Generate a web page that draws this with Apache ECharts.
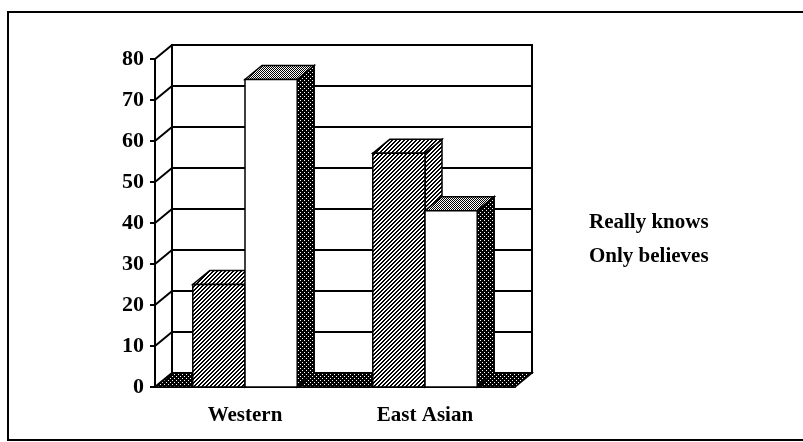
<!DOCTYPE html>
<html>
<head>
<meta charset="utf-8">
<script src="https://cdn.jsdelivr.net/npm/echarts@6/dist/echarts.min.js"></script>
<style>
  html, body { margin: 0; padding: 0; background: #fff; }
  #chart { width: 803px; height: 442px; }
</style>
</head>
<body>
<div id="chart"></div>
<script>
const categories = ['Western', 'East Asian']
const reallyKnows = [25, 57]
const onlyBelieves = [75, 43]
const yTicks = [0, 10, 20, 30, 40, 50, 60, 70, 80]

// 3d depth offsets
const DX = 17
const DY = 14
const font = '"Liberation Serif", "Times New Roman", serif'

function makePattern(size, draw) {
  const c = document.createElement('canvas')
  c.width = size
  c.height = size
  const ctx = c.getContext('2d')
  draw(ctx)
  return { image: c, repeat: 'repeat' }
}

// diagonal hatch ////
const hatch = makePattern(4, ctx => {
  ctx.fillStyle = '#fff'
  ctx.fillRect(0, 0, 4, 4)
  ctx.fillStyle = '#000'
  for (let i = 0; i < 4; i++) {
    ctx.fillRect(i, 3 - i, 1, 1)
    ctx.fillRect(i, (4 - i) % 4, 1, 1)
  }
})
// dark stipple (sides, floor)
const darkDots = makePattern(4, ctx => {
  ctx.fillStyle = '#000'
  ctx.fillRect(0, 0, 4, 4)
  ctx.fillStyle = '#fff'
  ctx.fillRect(0, 0, 1, 1)
  ctx.fillRect(2, 2, 1, 1)
})
// lighter stipple (tops)
const lightDots = makePattern(2, ctx => {
  ctx.fillStyle = '#fff'
  ctx.fillRect(0, 0, 2, 2)
  ctx.fillStyle = '#000'
  ctx.fillRect(0, 0, 1, 1)
  ctx.fillRect(1, 1, 1, 1)
})

const stroke = { stroke: '#000', lineWidth: 1.5 }

function poly(points, fill) {
  return { type: 'polygon', shape: { points: points }, style: Object.assign({ fill: fill }, stroke) }
}

function barRenderer(front, top, side, offset) {
  return function (params, api) {
    const cat = api.value(0)
    const val = api.value(1)
    const p = api.coord([cat, val])
    const p0 = api.coord([cat, 0])
    const bw = api.size([1, 0])[0] * 0.29
    const x0 = p[0] + offset * bw
    const x1 = x0 + bw
    const yt = p[1]
    const yb = p0[1]
    return {
      type: 'group',
      children: [
        poly([[x1, yt], [x1 + DX, yt - DY], [x1 + DX, yb - DY], [x1, yb]], side),
        poly([[x0, yt], [x1, yt], [x1 + DX, yt - DY], [x0 + DX, yt - DY]], top),
        poly([[x0, yt], [x1, yt], [x1, yb], [x0, yb]], front)
      ]
    }
  }
}

function frameRenderer(params, api) {
  const cs = params.coordSys
  const xl = cs.x
  const xr = cs.x + cs.width
  const y0 = api.coord([0, 0])[1]
  const yMax = api.coord([0, yTicks[yTicks.length - 1]])[1]
  const children = []
  // back wall
  children.push({
    type: 'rect',
    shape: { x: xl + DX, y: yMax - DY, width: xr - xl, height: y0 - yMax },
    style: { fill: '#fff', stroke: '#000', lineWidth: 2 }
  })
  // floor
  children.push(poly([[xl, y0], [xr, y0], [xr + DX, y0 - DY], [xl + DX, y0 - DY]], darkDots))
  yTicks.forEach(v => {
    const y = api.coord([0, v])[1]
    if (v > 0 && v < yTicks[yTicks.length - 1]) {
      children.push({
        type: 'line',
        shape: { x1: xl + DX, y1: y - DY, x2: xr + DX, y2: y - DY },
        style: { stroke: '#000', lineWidth: 2 }
      })
    }
    children.push({
      type: 'line',
      shape: { x1: xl, y1: y, x2: xl + DX, y2: y - DY },
      style: { stroke: '#000', lineWidth: 2 }
    })
  })
  return { type: 'group', children: children }
}

const chart = echarts.init(document.getElementById('chart'))
chart.setOption({
  backgroundColor: '#fff',
  animation: false,
  graphic: [{
    type: 'rect',
    shape: { x: 8, y: 12, width: 820, height: 428 },
    style: { fill: 'none', stroke: '#000', lineWidth: 2 },
    z: -10
  }],
  grid: {
    left: 155,
    right: 288,
    top: 59,
    bottom: 55
  },
  legend: {
    orient: 'vertical',
    left: 579,
    top: 207,
    itemWidth: 0,
    itemHeight: 0,
    itemGap: 13,
    data: ['Really knows', 'Only believes'],
    textStyle: {
      fontFamily: font,
      fontWeight: 'bold',
      fontSize: 21,
      color: '#000'
    }
  },
  xAxis: {
    type: 'category',
    data: categories,
    axisLine: { lineStyle: { color: '#000', width: 2 } },
    axisTick: { length: 5, lineStyle: { color: '#000', width: 2 } },
    axisLabel: {
      margin: 18,
      fontFamily: font,
      fontWeight: 'bold',
      fontSize: 21,
      color: '#000'
    }
  },
  yAxis: {
    type: 'value',
    min: 0,
    max: 80,
    interval: 10,
    axisLine: { show: true, lineStyle: { color: '#000', width: 2 } },
    axisTick: { show: true, length: 5, lineStyle: { color: '#000', width: 2 } },
    splitLine: { show: false },
    axisLabel: {
      margin: 11,
      fontFamily: font,
      fontWeight: 'bold',
      fontSize: 22,
      color: '#000'
    }
  },
  series: [{
    type: 'custom',
    name: 'frame',
    z: 1,
    silent: true,
    renderItem: frameRenderer,
    data: [[0, 0]]
  }, {
    type: 'custom',
    name: 'Really knows',
    z: 2,
    renderItem: barRenderer(hatch, hatch, hatch, -1),
    data: reallyKnows.map((v, i) => [i, v])
  }, {
    type: 'custom',
    name: 'Only believes',
    z: 3,
    renderItem: barRenderer('#fff', lightDots, darkDots, 0),
    data: onlyBelieves.map((v, i) => [i, v])
  }]
})
</script>
</body>
</html>
